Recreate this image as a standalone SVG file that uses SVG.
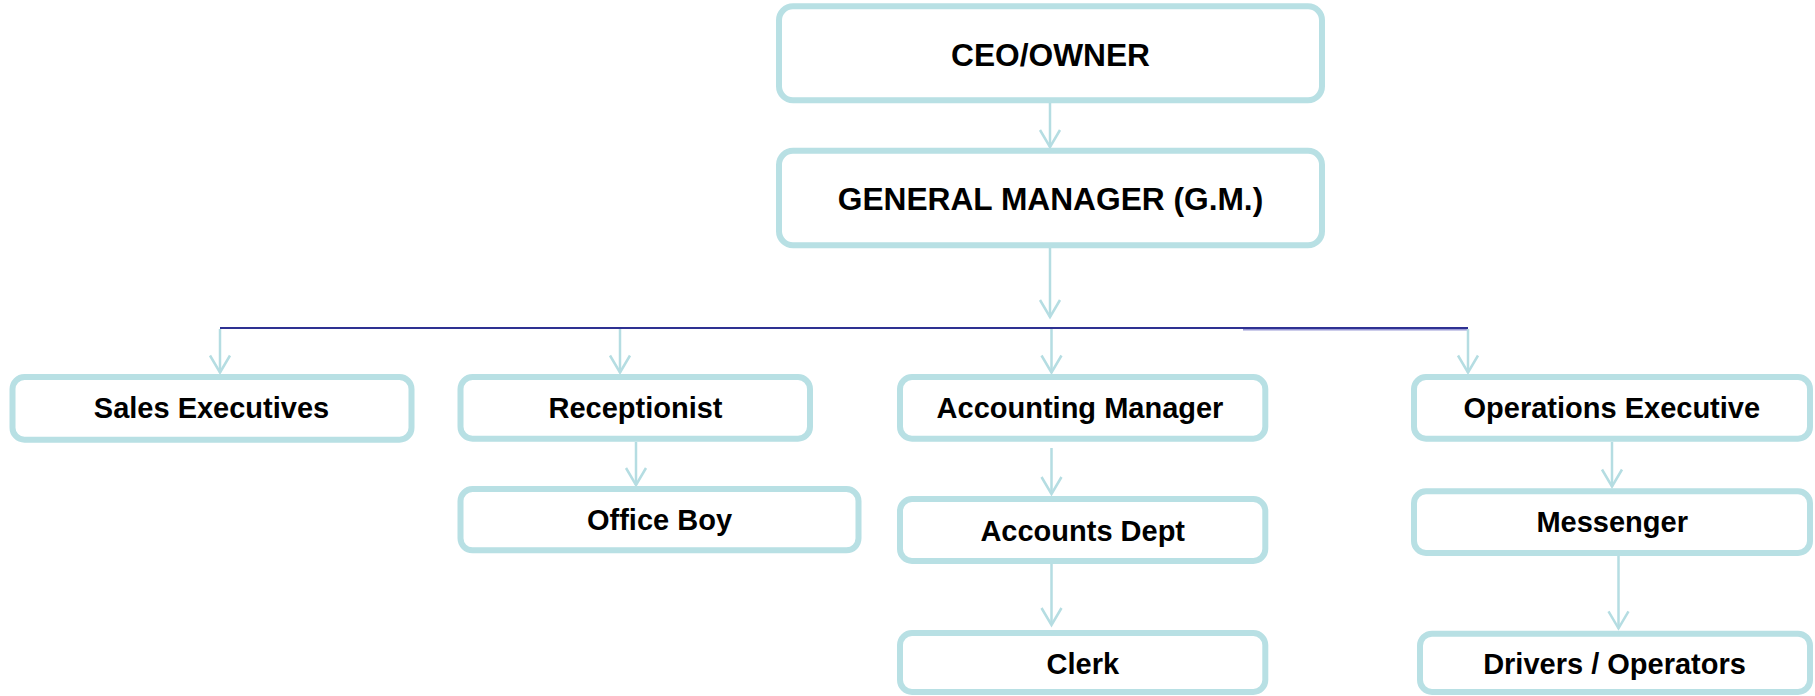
<svg xmlns="http://www.w3.org/2000/svg" width="1815" height="696" viewBox="0 0 1815 696">
<style>
.box{fill:#ffffff;stroke:#b8e0e4;stroke-width:6}
.t1{font-family:"Liberation Sans",Arial,sans-serif;font-weight:bold;font-size:31.7px;fill:#000;text-anchor:middle}
.t2{font-family:"Liberation Sans",Arial,sans-serif;font-weight:bold;font-size:29px;fill:#000;text-anchor:middle}
.con{fill:none;stroke:#b5dde2;stroke-width:2.5}
.bus{fill:none;stroke:#2e3192;stroke-width:2.2}
</style>
<defs>
<marker id="arr" viewBox="0 0 20 22" refX="17" refY="11" markerWidth="20" markerHeight="22" markerUnits="userSpaceOnUse" orient="auto" overflow="visible">
<path d="M0,1 L17,11 L0,21" fill="none" stroke="#b5dde2" stroke-width="2.5"/>
</marker>
</defs>
<g id="connectors">
<line class="con" x1="1050" y1="103" x2="1050" y2="147" marker-end="url(#arr)"/>
<line class="con" x1="1050" y1="248" x2="1050" y2="317" marker-end="url(#arr)"/>
<line x1="1243" y1="329.8" x2="1468" y2="329.8" stroke="#9a9ad6" stroke-width="1.6"/>
<line class="bus" x1="220" y1="328" x2="1468" y2="328"/>
<line class="con" x1="220" y1="329" x2="220" y2="372.5" marker-end="url(#arr)"/>
<line class="con" x1="620" y1="329" x2="620" y2="372.5" marker-end="url(#arr)"/>
<line class="con" x1="1051.5" y1="329" x2="1051.5" y2="372.5" marker-end="url(#arr)"/>
<line class="con" x1="1468" y1="329" x2="1468" y2="372.5" marker-end="url(#arr)"/>
<line class="con" x1="636" y1="442" x2="636" y2="485" marker-end="url(#arr)"/>
<line class="con" x1="1051.5" y1="448" x2="1051.5" y2="494" marker-end="url(#arr)"/>
<line class="con" x1="1051.5" y1="564" x2="1051.5" y2="625" marker-end="url(#arr)"/>
<line class="con" x1="1612" y1="442" x2="1612" y2="486.5" marker-end="url(#arr)"/>
<line class="con" x1="1618.5" y1="556" x2="1618.5" y2="628.3" marker-end="url(#arr)"/>
</g>
<g id="ceo">
<rect class="box" x="779" y="6.3" width="543" height="94" rx="14"/>
<text class="t1" x="1050.5" y="65.7">CEO/OWNER</text>
</g>
<g id="gm">
<rect class="box" x="779" y="150.7" width="543" height="94.6" rx="14"/>
<text class="t1" x="1050.5" y="210">GENERAL MANAGER (G.M.)</text>
</g>
<g id="sales">
<rect class="box" x="12.5" y="377" width="399" height="62.7" rx="12"/>
<text class="t2" x="211.5" y="418.3">Sales Executives</text>
</g>
<g id="receptionist">
<rect class="box" x="460.5" y="377" width="349.5" height="61.7" rx="12"/>
<text class="t2" x="635.5" y="418.3">Receptionist</text>
</g>
<g id="officeboy">
<rect class="box" x="460.5" y="489" width="398" height="61.3" rx="12"/>
<text class="t2" x="659.5" y="530">Office Boy</text>
</g>
<g id="accmgr">
<rect class="box" x="900" y="377" width="365.3" height="61.7" rx="12"/>
<text class="t2" x="1080" y="418.3">Accounting Manager</text>
</g>
<g id="accdept">
<rect class="box" x="900" y="499" width="365.3" height="62" rx="12"/>
<text class="t2" x="1082.7" y="540.7">Accounts Dept</text>
</g>
<g id="clerk">
<rect class="box" x="900" y="633" width="365.3" height="59" rx="12"/>
<text class="t2" x="1082.8" y="674">Clerk</text>
</g>
<g id="opsexec">
<rect class="box" x="1414" y="377" width="396" height="61.7" rx="12"/>
<text class="t2" x="1611.8" y="418.3">Operations Executive</text>
</g>
<g id="messenger">
<rect class="box" x="1414" y="491.3" width="396" height="61.7" rx="12"/>
<text class="t2" x="1612.2" y="531.7">Messenger</text>
</g>
<g id="drivers">
<rect class="box" x="1420" y="633.7" width="390" height="58.3" rx="12"/>
<text class="t2" x="1614.5" y="674">Drivers / Operators</text>
</g>
</svg>
